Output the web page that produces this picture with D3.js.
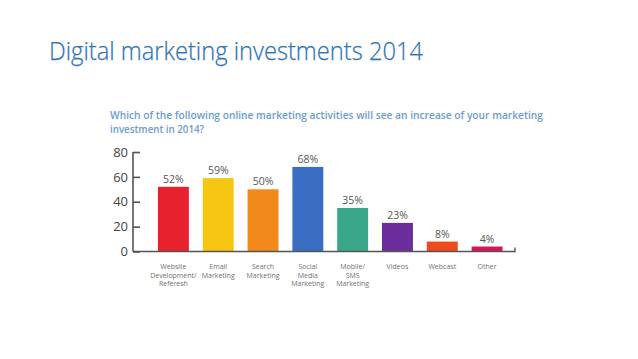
<!DOCTYPE html>
<html>
<head>
<meta charset="utf-8">
<script src="https://cdn.jsdelivr.net/npm/d3@7"></script>
<style>
  html, body { margin: 0; padding: 0; background: #fff; }
  svg { display: block; }
</style>
</head>
<body>
<svg id="chart"></svg>
<script>
const categories = [
  ["Website", "Development/", "Referesh"],
  ["Email", "Marketing"],
  ["Search", "Marketing"],
  ["Social", "Media", "Marketing"],
  ["Mobile/", "SMS", "Marketing"],
  ["Videos"],
  ["Webcast"],
  ["Other"]
];
const values = [52, 59, 50, 68, 35, 23, 8, 4];
const barColors = ["#e8222c", "#f6c613", "#f28a1b", "#3a6ec3", "#3aa78b", "#6b2c9c", "#ee4a1f", "#d3155a"];
const yTicks = [0, 20, 40, 60, 80];

const width = 638;
const height = 359;

const svg = d3.select("#chart")
              .attr("width", width)
              .attr("height", height);

svg.append("text")
   .attr("x", 49)
   .attr("y", 60)
   .attr("font-family", "Open Sans")
   .attr("font-weight", 300)
   .attr("font-size", 25.5)
   .attr("fill", "#2e74b5")
   .attr("stroke", "#2e74b5")
   .attr("stroke-width", 0.25)
   .attr("textLength", 374)
   .attr("lengthAdjust", "spacingAndGlyphs")
   .text("Digital marketing investments 2014");

const subtitle = svg.append("g")
                    .attr("font-family", "Open Sans")
                    .attr("font-weight", 600)
                    .attr("font-size", 11)
                    .attr("fill", "#6d9cd1");
subtitle.append("text")
        .attr("x", 110).attr("y", 119)
        .attr("textLength", 433)
        .attr("lengthAdjust", "spacingAndGlyphs")
        .text("Which of the following online marketing activities will see an increase of your marketing");
subtitle.append("text")
        .attr("x", 110).attr("y", 133)
        .attr("textLength", 94)
        .attr("lengthAdjust", "spacingAndGlyphs")
        .text("investment in 2014?");

const x = d3.scaleBand()
            .domain(d3.range(values.length))
            .range([151, 509.5])
            .paddingInner(0.31)
            .paddingOuter(0.155);

const y = d3.scaleLinear()
            .domain([0, 80])
            .range([251.5, 152]);

// bars
svg.selectAll(".bar")
   .data(values)
   .enter()
   .append("rect")
   .attr("class", "bar")
   .attr("x", (d, i) => x(i))
   .attr("y", d => y(d))
   .attr("width", x.bandwidth())
   .attr("height", d => y(0) - y(d))
   .attr("fill", (d, i) => barColors[i]);

// value labels
svg.selectAll(".val")
   .data(values)
   .enter()
   .append("text")
   .attr("class", "val")
   .attr("x", (d, i) => x(i) + x.bandwidth() / 2)
   .attr("y", d => y(d) - 4)
   .attr("text-anchor", "middle")
   .attr("font-family", "Open Sans")
   .attr("font-size", 10.5)
   .attr("fill", "#555")
   .text(d => d + "%");

// y axis
const yAxis = d3.axisRight(y)
                .tickValues(yTicks)
                .tickSize(7)
                .tickFormat(d => d);

const gy = svg.append("g")
              .attr("transform", "translate(133,0)")
              .call(yAxis);
gy.select(".domain").remove();
gy.append("line")
  .attr("x1", 0).attr("x2", 0)
  .attr("y1", y(80)).attr("y2", y(0))
  .attr("stroke", "#555").attr("stroke-width", 1.6);
gy.selectAll(".tick line")
  .attr("stroke", "#555").attr("stroke-width", 1.6);
gy.selectAll(".tick text")
  .attr("x", -5)
  .attr("text-anchor", "end")
  .attr("font-family", "Open Sans")
  .attr("font-size", 13)
  .attr("fill", "#444");

// baseline
svg.append("line")
   .attr("x1", 133).attr("x2", 515)
   .attr("y1", y(0)).attr("y2", y(0))
   .attr("stroke", "#555").attr("stroke-width", 1.6);
svg.append("line")
   .attr("x1", 515).attr("x2", 515)
   .attr("y1", y(0) - 4).attr("y2", y(0) + 0.8)
   .attr("stroke", "#555").attr("stroke-width", 1.4);

// category labels
const cat = svg.selectAll(".cat")
               .data(categories)
               .enter()
               .append("text")
               .attr("class", "cat")
               .attr("text-anchor", "middle")
               .attr("font-family", "Open Sans")
               .attr("font-size", 7)
               .attr("fill", "#707070");
cat.selectAll("tspan")
   .data((d, i) => d.map(t => ({ t, i })))
   .enter()
   .append("tspan")
   .attr("x", d => x(d.i) + x.bandwidth() / 2)
   .attr("y", (d, j) => 269 + j * 8.5)
   .text(d => d.t);
</script>
</body>
</html>
